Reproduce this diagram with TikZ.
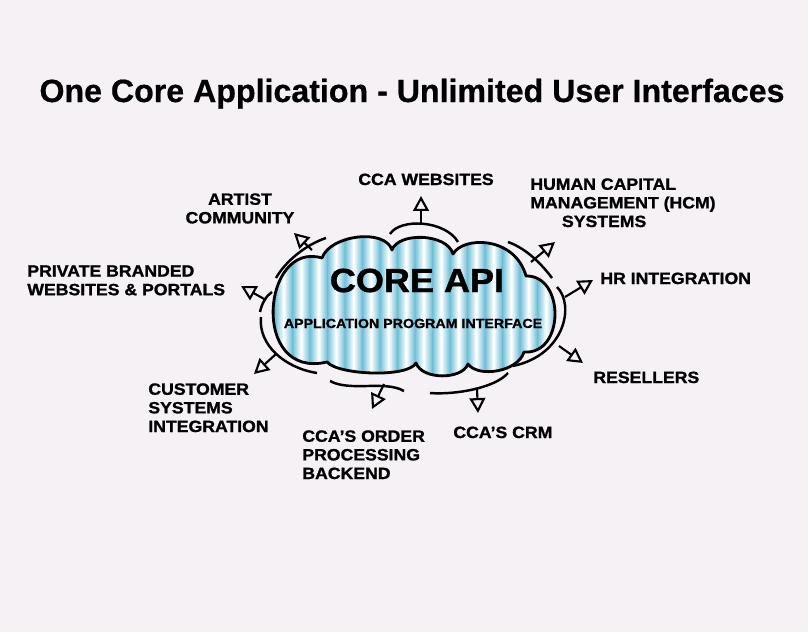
\documentclass[tikz,border=0pt]{standalone}
\usepackage{fontspec}
\setmainfont{Liberation Sans}
\newfontfamily\lblfont{Liberation Sans}[FakeStretch=1.08, FakeBold=1.2]
\newfontfamily\headfont{Liberation Sans}[FakeBold=0.6]
\usetikzlibrary{arrows.meta}

\definecolor{bgpaper}{RGB}{245,241,245}
\definecolor{stripeblue}{RGB}{112,192,216}

\tikzset{
  lbl/.style={font=\lblfont\bfseries\fontsize{9.3}{10.6}\selectfont, inner sep=0pt},
  feed/.style={line width=1.2pt, -{Triangle[open,length=8.5pt,width=9pt]}},
  rim/.style={line width=1.4pt},
}

% outline of the cloud, in pixels
\def\cloudpath{(322,258) .. controls (330,235) and (385,228) .. (392,250)
  .. controls (398,232) and (447,233) .. (453,254)
  .. controls (463,236) and (515,236) .. (526,276)
  .. controls (565,275) and (565,355) .. (524,352)
  .. controls (518,372) and (478,378) .. (468,364)
  .. controls (462,380) and (422,380) .. (416,363)
  .. controls (408,378) and (338,375) .. (327,362)
  .. controls (250,380) and (262,240) .. (322,258) -- cycle}

\begin{document}
\begin{tikzpicture}[x=0.02cm, y=-0.02cm]
\fill[bgpaper] (0,0) rectangle (808,632);
\useasboundingbox (0,0) rectangle (808,632);

\node[font=\headfont\bfseries\fontsize{18.3}{22}\selectfont, anchor=base, inner sep=0pt] (title) at (412,102)
  {One Core Application - Unlimited User Interfaces};

% striped cloud
\begin{scope}
\clip \cloudpath;
\foreach \i in {0,...,17}{
  \shade[left color=white, right color=stripeblue] ({266+17.5*\i},225) rectangle ({274.75+17.5*\i},395);
  \shade[left color=stripeblue, right color=white] ({274.75+17.5*\i},225) rectangle ({283.5+17.5*\i},395);
}
\end{scope}
\draw[line width=1.6pt, line join=round] \cloudpath;

\node[lbl, font=\lblfont\bfseries\fontsize{19}{22}\selectfont, anchor=base] (core) at (417,292) {CORE API};
\node[lbl, font=\lblfont\bfseries\fontsize{7.5}{9}\selectfont, anchor=base] (api) at (413,328) {APPLICATION PROGRAM INTERFACE};

% broken rims round the cloud
\draw[rim] (390,234) .. controls (400,218) and (445,220) .. (458,242);
\draw[rim] (276,278) .. controls (285,262) and (305,245) .. (326,238);
\draw[rim] (260,312) .. controls (262,303) and (266,296) .. (272,292);
\draw[rim] (261,317) .. controls (258,345) and (285,368) .. (317,373);
\draw[rim] (330,381) .. controls (350,392) and (385,380) .. (404,391);
\draw[rim] (430,393) .. controls (455,395) and (495,388) .. (508,373);
\draw[rim] (557,287) .. controls (575,305) and (565,355) .. (513,366);
\draw[rim] (508,242) .. controls (525,248) and (540,262) .. (552,278);

% arrow ends
\coordinate (web-b) at (421,224);    \coordinate (web-t) at (421,196);
\coordinate (hcm-b) at (531,262);    \coordinate (hcm-t) at (555,242);
\coordinate (hr-b) at (565,297);     \coordinate (hr-t) at (593,280);
\coordinate (res-b) at (559,346);    \coordinate (res-t) at (583,363);
\coordinate (crm-b) at (477,389);    \coordinate (crm-t) at (478,413);
\coordinate (order-b) at (384,384);  \coordinate (order-t) at (372,409);
\coordinate (cust-b) at (276,354);   \coordinate (cust-t) at (254,374);
\coordinate (priv-b) at (266,300);   \coordinate (priv-t) at (241,286);
\coordinate (artist-b) at (312,250); \coordinate (artist-t) at (294,233);

\foreach \n in {web,hcm,hr,res,crm,order,cust,priv,artist}
  \draw[feed] (\n-b) -- (\n-t);

% labels
\node[lbl, anchor=base] (web) at (426,185) {CCA WEBSITES};
\node[lbl, align=left, anchor=north west] (hcm) at (530,178) {HUMAN CAPITAL\\MANAGEMENT (HCM)\\\hspace*{18pt}SYSTEMS};
\node[lbl, anchor=base west] (hr) at (600,284) {HR INTEGRATION};
\node[lbl, anchor=base west] (res) at (593,383) {RESELLERS};
\node[lbl, anchor=base west] (crm) at (453,438) {CCA’S CRM};
\node[lbl, align=left, anchor=north west] (order) at (302,430) {CCA’S ORDER\\PROCESSING\\BACKEND};
\node[lbl, align=left, anchor=north west] (cust) at (148,383) {CUSTOMER\\SYSTEMS\\INTEGRATION};
\node[lbl, align=left, anchor=north west] (priv) at (27,265) {PRIVATE BRANDED\\WEBSITES \& PORTALS};
\node[lbl, align=center, anchor=north] (artist) at (240,193) {ARTIST\\COMMUNITY};
\end{tikzpicture}
\end{document}
